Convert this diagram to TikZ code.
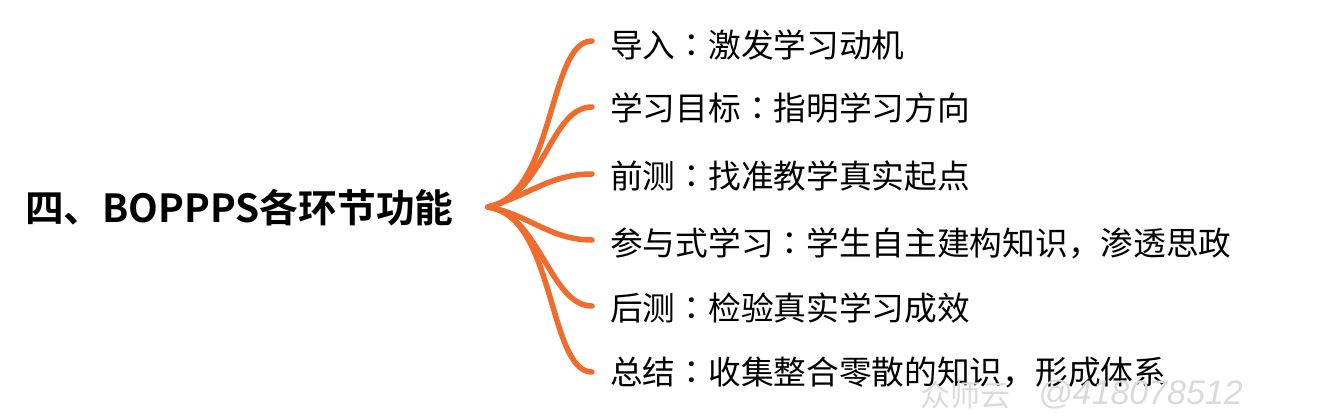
\documentclass[tikz,border=0pt]{standalone}
\usepackage{fontspec}
\newfontfamily\cjk{Noto Sans CJK SC}[BoldFont={Noto Sans CJK SC Bold}]
\newfontfamily\cjktc{Noto Sans CJK TC}
\newfontfamily\wmfont{Liberation Sans}
\newcommand{\fcolon}{{\cjktc ：}}
\definecolor{branch}{RGB}{240,108,44}
\definecolor{wm}{RGB}{218,218,218}
\begin{document}
\begin{tikzpicture}[x=1pt,y=-1pt,
  item/.style={anchor=west,inner sep=0pt,font=\cjk\fontsize{32.7}{36}\selectfont},
  br/.style={draw=branch,line width=5.5pt,line cap=round}]
\useasboundingbox (0,0) rectangle (1320,417);
\node[anchor=west,inner sep=0pt,font=\cjk\bfseries\fontsize{38.7}{42}\selectfont] (title) at (25,208) {四、BOPPPS各环节功能};
\coordinate (o) at (488,207);
\coordinate (e1) at (592,41);
\coordinate (e2) at (592,107);
\coordinate (e3) at (592,174);
\coordinate (e4) at (592,240);
\coordinate (e5) at (592,306);
\coordinate (e6) at (592,372);
\draw[br] (o) .. controls (555,195) and (548,41) .. (e1);
\draw[br] (o) .. controls (545,195) and (550,107) .. (e2);
\draw[br] (o) .. controls (530,195) and (550,174) .. (e3);
\draw[br] (o) .. controls (530,215) and (550,240) .. (e4);
\draw[br] (o) .. controls (540,215) and (550,306) .. (e5);
\draw[br] (o) .. controls (555,215) and (548,372) .. (e6);
\node[item] (t1) at (610,45) {导入\fcolon 激发学习动机};
\node[item] (t2) at (610,108) {学习目标\fcolon 指明学习方向};
\node[item] (t3) at (610,176) {前测\fcolon 找准教学真实起点};
\node[item] (t4) at (610,243) {参与式学习\fcolon 学生自主建构知识，渗透思政};
\node[item] (t5) at (610,308) {后测\fcolon 检验真实学习成效};
\node[item] (t6) at (610,372) {总结\fcolon 收集整合零散的知识，形成体系};
\node[anchor=west,inner sep=0pt,text=wm,font=\cjk\fontsize{30}{32}\selectfont] (w1) at (920,395) {众师云};
\node[anchor=west,inner sep=0pt,text=wm,font=\wmfont\itshape\fontsize{34}{36}\selectfont] (w2) at (1038,395) {@418078512};
\end{tikzpicture}
\end{document}
